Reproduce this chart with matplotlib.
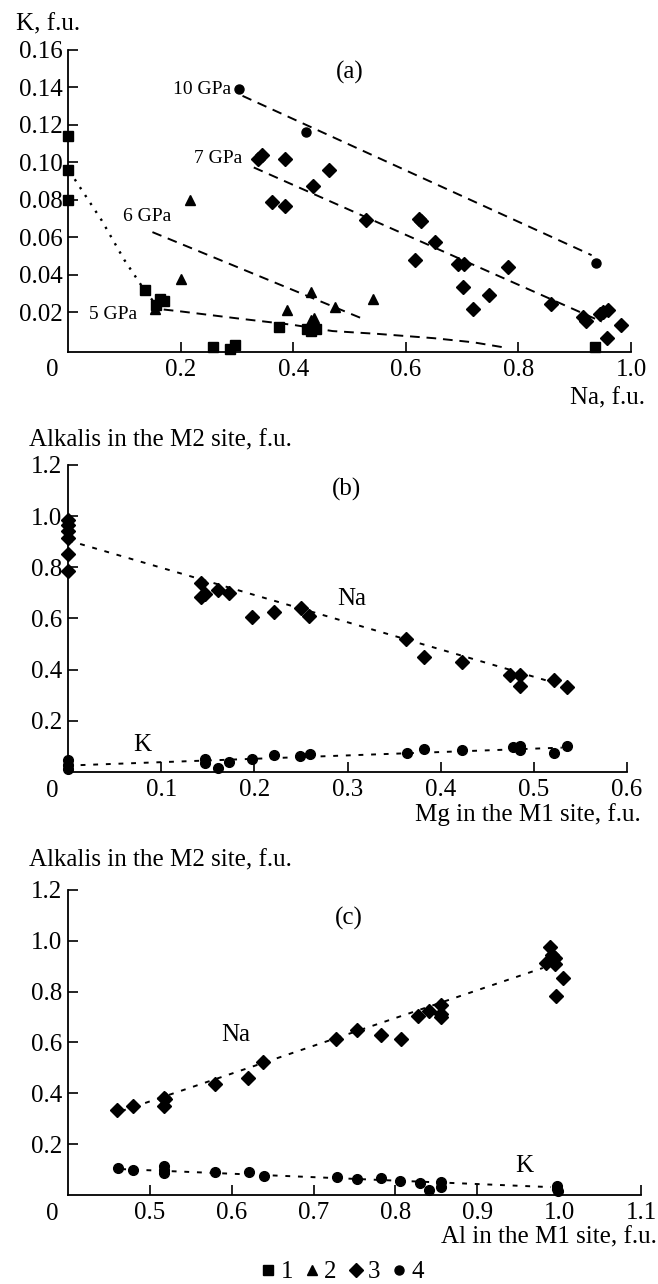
import matplotlib
matplotlib.use('Agg')
import matplotlib.pyplot as plt

FontSize = 18
GpaSize = 14
TickLen = 7
line_w = 1.4

# ---- panel (a): K vs Na ----
a_sq_x = [0.0, 0.0, 0.0, 0.137, 0.156, 0.164, 0.171, 0.258, 0.288, 0.297, 0.375, 0.424, 0.432, 0.44, 0.936]
a_sq_y = [0.114, 0.096, 0.080, 0.032, 0.024, 0.027, 0.026, 0.0013, 0.0005, 0.0027, 0.012, 0.011, 0.010, 0.011, 0.0013]
a_tri_x = [0.155, 0.201, 0.217, 0.389, 0.431, 0.432, 0.437, 0.475, 0.542]
a_tri_y = [0.022, 0.038, 0.080, 0.021, 0.031, 0.016, 0.017, 0.023, 0.027]
a_dia_x = [0.338, 0.344, 0.363, 0.385, 0.385, 0.435, 0.463, 0.530, 0.616, 0.623, 0.627, 0.651, 0.693,
           0.702, 0.704, 0.720, 0.748, 0.782, 0.858, 0.914, 0.920, 0.945, 0.951, 0.958, 0.960, 0.982]
a_dia_y = [0.102, 0.104, 0.079, 0.077, 0.1017, 0.0875, 0.096, 0.069, 0.048, 0.070, 0.0686, 0.0575, 0.046,
           0.0336, 0.046, 0.022, 0.029, 0.044, 0.0244, 0.0177, 0.0156, 0.0189, 0.0204, 0.0062, 0.0212, 0.0133]
a_cir_x = [0.303, 0.423, 0.938]
a_cir_y = [0.139, 0.116, 0.0465]

a_fit10_x = [0.31, 0.93]
a_fit10_y = [0.1355, 0.0505]
a_fit7_x = [0.33, 0.948]
a_fit7_y = [0.0973, 0.015]
a_fit6_x = [0.15, 0.52]
a_fit6_y = [0.0628, 0.017]
a_fit5dot_x = [0.012, 0.06, 0.10, 0.14, 0.16]
a_fit5dot_y = [0.091, 0.069, 0.048, 0.030, 0.023]
a_fit5_x = [0.17, 0.20, 0.30, 0.40, 0.47, 0.55, 0.65, 0.72, 0.78]
a_fit5_y = [0.0215, 0.0205, 0.0168, 0.0133, 0.0100, 0.0085, 0.0062, 0.0040, 0.0010]

# ---- panel (b): alkalis vs Mg ----
b_na_x = [0, 0, 0, 0, 0, 0, 0.143, 0.143, 0.147, 0.161, 0.173, 0.198, 0.221, 0.250, 0.259,
          0.363, 0.382, 0.423, 0.474, 0.485, 0.485, 0.522, 0.536]
b_na_y = [0.985, 0.966, 0.94, 0.915, 0.852, 0.785, 0.738, 0.683, 0.697, 0.713, 0.700, 0.606, 0.625, 0.642, 0.609,
          0.521, 0.450, 0.430, 0.378, 0.378, 0.335, 0.359, 0.333]
b_k_x = [0, 0, 0, 0.147, 0.147, 0.161, 0.173, 0.197, 0.221, 0.249, 0.260, 0.364, 0.382, 0.423,
         0.478, 0.485, 0.485, 0.522, 0.536]
b_k_y = [0.047, 0.027, 0.011, 0.050, 0.034, 0.014, 0.040, 0.051, 0.066, 0.062, 0.070, 0.073, 0.088, 0.086,
         0.096, 0.101, 0.086, 0.073, 0.101]
b_fitna_x = [0.0, 0.53]
b_fitna_y = [0.905, 0.34]
b_fitk_x = [0.0, 0.53]
b_fitk_y = [0.025, 0.095]

# ---- panel (c): alkalis vs Al ----
c_na_x = [0.460, 0.480, 0.517, 0.518, 0.517, 0.580, 0.620, 0.638, 0.728, 0.753, 0.782, 0.807, 0.828, 0.841,
          0.856, 0.856, 0.856, 0.984, 0.989, 0.991, 0.995, 0.995, 0.996, 1.005]
c_na_y = [0.335, 0.351, 0.383, 0.376, 0.351, 0.435, 0.461, 0.524, 0.615, 0.650, 0.628, 0.612, 0.703, 0.725,
          0.749, 0.712, 0.702, 0.913, 0.975, 0.946, 0.931, 0.907, 0.784, 0.855]
c_k_x = [0.461, 0.480, 0.517, 0.517, 0.517, 0.580, 0.621, 0.639, 0.729, 0.753, 0.782, 0.806, 0.830, 0.841,
         0.856, 0.856, 0.997, 0.997, 0.998]
c_k_y = [0.108, 0.099, 0.114, 0.099, 0.085, 0.092, 0.092, 0.073, 0.069, 0.062, 0.066, 0.056, 0.047, 0.019,
         0.053, 0.030, 0.036, 0.023, 0.017]
c_fitna_x = [0.465, 0.98]
c_fitna_y = [0.33, 0.893]
c_fitk_x = [0.465, 0.99]
c_fitk_y = [0.102, 0.031]

legend_labels = ['1', '2', '3', '4']

plt.rcParams.update({'font.size': FontSize, 'font.family': 'Liberation Serif'})

dash_a = (0, (5, 3.5))
dash_bc = (0, (2.5, 4))
dots = (0, (1, 3))


def style_axis(ax, xlim, ylim, xticks, yticks, xfmt, yfmt):
    ax.set_xlim(xlim)
    ax.set_ylim(ylim)
    ax.set_xticks(xticks)
    ax.set_yticks(yticks)
    ax.set_xticklabels([xfmt % v for v in xticks])
    ax.set_yticklabels([yfmt % v for v in yticks])
    for s in ['top', 'right']:
        ax.spines[s].set_visible(False)
    for s in ['left', 'bottom']:
        ax.spines[s].set_linewidth(1.3)
    ax.tick_params(direction='in', length=TickLen, width=1.2, labelsize=FontSize)
    ax.tick_params(axis='x', pad=5)
    ax.tick_params(axis='y', pad=4)
    ax.annotate('0', xy=(0, 0), xycoords='axes fraction', xytext=(-11.5, -13.5),
                textcoords='offset points', ha='center', va='center', fontsize=FontSize)


fig = plt.figure(figsize=(6.58, 12.84), dpi=100)
ax_a = fig.add_axes([0.1033, 0.7261, 0.8557, 0.2350])
ax_b = fig.add_axes([0.1033, 0.3988, 0.8497, 0.2391])
ax_c = fig.add_axes([0.1033, 0.0693, 0.8709, 0.2376])

mk = dict(color='black', linestyle='none', clip_on=False, zorder=3)

# (a)
ax_a.plot(a_fit10_x, a_fit10_y, color='black', lw=line_w, linestyle=dash_a)
ax_a.plot(a_fit7_x, a_fit7_y, color='black', lw=line_w, linestyle=dash_a)
ax_a.plot(a_fit6_x, a_fit6_y, color='black', lw=line_w, linestyle=dash_a)
ax_a.plot(a_fit5dot_x, a_fit5dot_y, color='black', lw=line_w + 0.3, linestyle=dots)
ax_a.plot(a_fit5_x, a_fit5_y, color='black', lw=line_w, linestyle=dash_a)
ax_a.plot(a_sq_x, a_sq_y, marker='s', markersize=6.5, label=legend_labels[0], **mk)
ax_a.plot(a_tri_x, a_tri_y, marker='^', markersize=7, label=legend_labels[1], **mk)
ax_a.plot(a_dia_x, a_dia_y, marker='D', markersize=7.5, label=legend_labels[2], **mk)
ax_a.plot(a_cir_x, a_cir_y, marker='o', markersize=6.5, label=legend_labels[3], **mk)
style_axis(ax_a, (0, 1.0), (-0.001, 0.16), [0.2, 0.4, 0.6, 0.8, 1.0],
           [0.02, 0.04, 0.06, 0.08, 0.10, 0.12, 0.14, 0.16], '%.1f', '%.2f')
ax_a.text(0.50, 0.148, '(a)', ha='center', va='center')
ax_a.text(0.289, 0.1388, '10 GPa', ha='right', va='center', fontsize=GpaSize)
ax_a.text(0.309, 0.1022, '7 GPa', ha='right', va='center', fontsize=GpaSize)
ax_a.text(0.0975, 0.0711, '6 GPa', ha='left', va='center', fontsize=GpaSize)
ax_a.text(0.037, 0.0186, '5 GPa', ha='left', va='center', fontsize=GpaSize)
fig.text(16 / 658, 1 - 24 / 1284, 'K, f.u.', ha='left', va='center')
fig.text(645 / 658, 1 - 398 / 1284, 'Na, f.u.', ha='right', va='center')

# (b)
ax_b.plot(b_fitna_x, b_fitna_y, color='black', lw=line_w, linestyle=dash_bc)
ax_b.plot(b_fitk_x, b_fitk_y, color='black', lw=line_w, linestyle=dash_bc)
ax_b.plot(b_na_x, b_na_y, marker='D', markersize=7, **mk)
ax_b.plot(b_k_x, b_k_y, marker='o', markersize=7, **mk)
style_axis(ax_b, (0, 0.6), (0, 1.2), [0.1, 0.2, 0.3, 0.4, 0.5, 0.6],
           [0.2, 0.4, 0.6, 0.8, 1.0, 1.2], '%.1f', '%.1f')
ax_b.text(0.299, 1.106, '(b)', ha='center', va='center')
ax_b.text(0.305, 0.677, 'Na', ha='center', va='center')
ax_b.text(0.080, 0.105, 'K', ha='center', va='center')
fig.text(29 / 658, 1 - 440 / 1284, 'Alkalis in the M2 site, f.u.', ha='left', va='center')
fig.text(641 / 658, 1 - 815 / 1284, 'Mg in the M1 site, f.u.', ha='right', va='center')

# (c)
ax_c.plot(c_fitna_x, c_fitna_y, color='black', lw=line_w, linestyle=dash_bc)
ax_c.plot(c_fitk_x, c_fitk_y, color='black', lw=line_w, linestyle=dash_bc)
ax_c.plot(c_na_x, c_na_y, marker='D', markersize=7.5, **mk)
ax_c.plot(c_k_x, c_k_y, marker='o', markersize=7, **mk)
style_axis(ax_c, (0.4, 1.1), (0, 1.2), [0.5, 0.6, 0.7, 0.8, 0.9, 1.0, 1.1],
           [0.2, 0.4, 0.6, 0.8, 1.0, 1.2], '%.1f', '%.1f')
ax_c.text(0.743, 1.089, '(c)', ha='center', va='center')
ax_c.text(0.605, 0.628, 'Na', ha='center', va='center')
ax_c.text(0.958, 0.113, 'K', ha='center', va='center')
fig.text(29 / 658, 1 - 860 / 1284, 'Alkalis in the M2 site, f.u.', ha='left', va='center')
fig.text(657 / 658, 1 - 1237 / 1284, 'Al in the M1 site, f.u.', ha='right', va='center')

handles, labels = ax_a.get_legend_handles_labels()
fig.legend(handles, labels, loc='center', bbox_to_anchor=(343 / 658, 1 - 1272 / 1284), ncol=4,
           frameon=False, handlelength=0.5, handletextpad=0.25, columnspacing=0.5,
           markerscale=1.0, fontsize=FontSize, borderpad=0)

fig.savefig('out.png', dpi=100)
